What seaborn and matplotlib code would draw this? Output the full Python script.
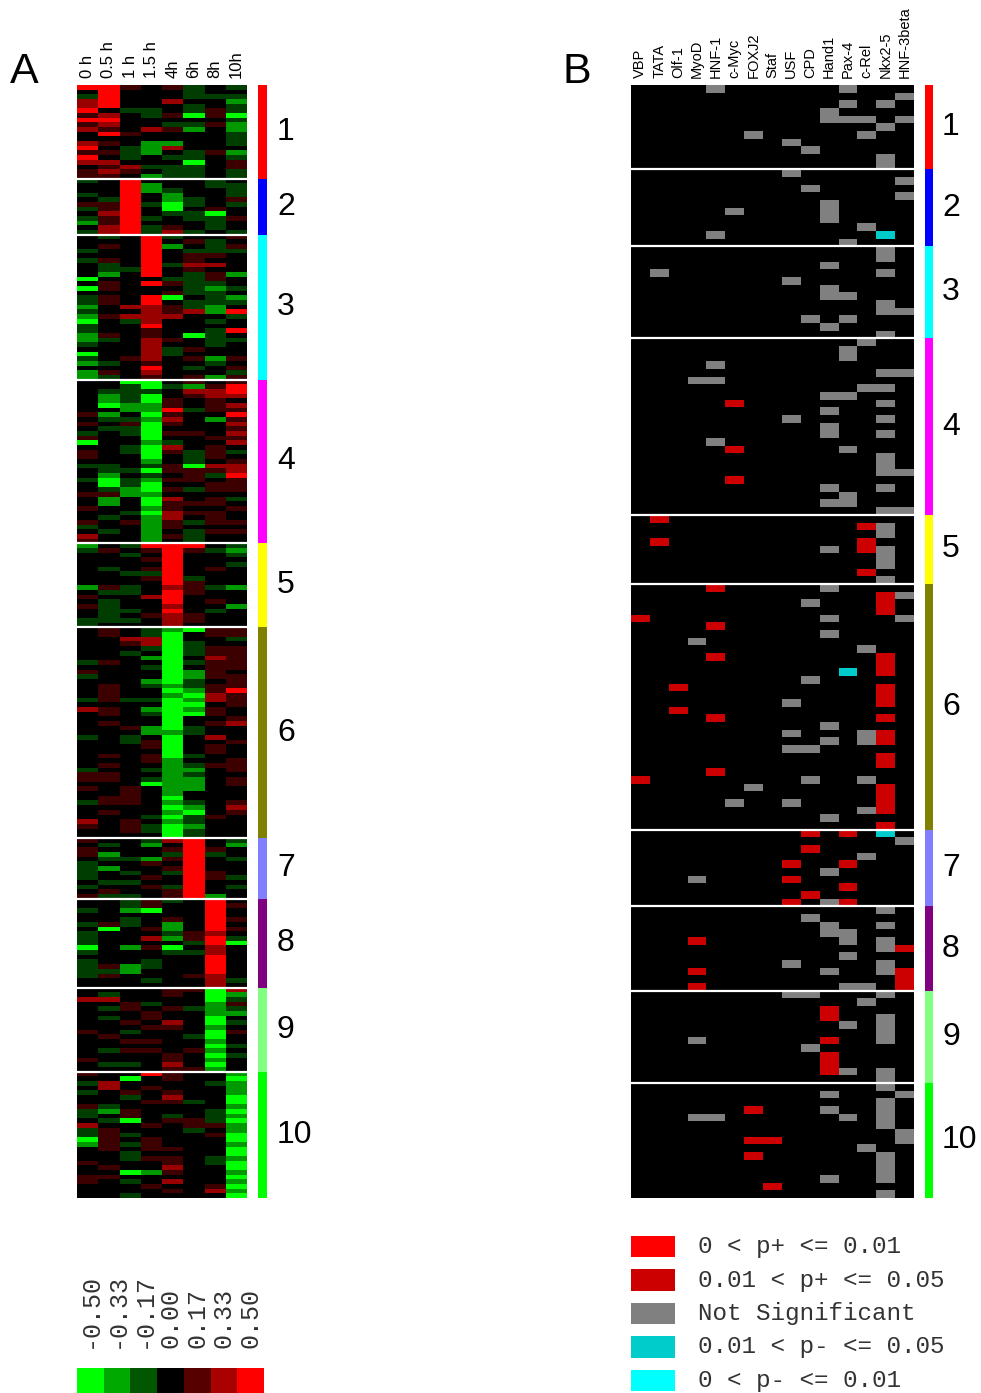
import numpy as np
import matplotlib
matplotlib.use("Agg")
import matplotlib.pyplot as plt
from matplotlib.colors import LinearSegmentedColormap, ListedColormap
from matplotlib.transforms import blended_transform_factory
import seaborn as sns

# ---------------- data ----------------
time_labels = ["0 h", "0.5 h", "1 h", "1.5 h", "4h", "6h", "8h", "10h"]
factor_labels = ["VBP", "TATA", "Olf-1", "MyoD", "HNF-1", "c-Myc", "FOXJ2", "Staf",
                 "USF", "CPD", "Hand1", "Pax-4", "c-Rel", "Nkx2-5", "HNF-3beta"]
cluster_names = ["1", "2", "3", "4", "5", "6", "7", "8", "9", "10"]
cluster_colors = ["#FF0000", "#0000FF", "#00FFFF", "#FF00FF", "#FFFF00",
                  "#808000", "#8080FF", "#800080", "#80FF80", "#00FF00"]
scale_ticks = [-0.50, -0.33, -0.17, 0.00, 0.17, 0.33, 0.50]
legend_labels = ["0 < p+ <= 0.01", "0.01 < p+ <= 0.05", "Not Significant",
                 "0.01 < p- <= 0.05", "0 < p- <= 0.01"]
legend_colors = ["#FF0000", "#CC0000", "#808080", "#00CCCC", "#00FFFF"]

# expression level read per cell, coded by digit: 0 bright green ... 3 black ... 6 bright red
level_values = [-0.50, -0.30, -0.12, 0.00, 0.12, 0.30, 0.50]

expr_c1 = ["66434232", "36333233", "26333222", "56335331", "56333232",
           "63223242", "45324040", "66333332", "45332241", "54354131",
           "36433332", "33333332", "54311332", "63215333", "44213241",
           "63232232", "55333034", "34522234", "45432232", "44312232"]
expr_c2 = ["23633323", "33613322", "33612332", "23631332", "32631234",
           "44620232", "24630343", "35632203", "24623224", "14633323",
           "35624323", "25625232"]
expr_c3 = ["32362334", "33363423", "34361324", "23363222", "33363443",
           "24363433", "32362553", "32263433", "31363241", "03332243",
           "34364223", "04333212", "33334223", "24360321", "24363222",
           "13554213", "23354516", "14555332", "03253323", "23363333",
           "23343326", "14343023", "12354322", "23353323", "33352433",
           "03352333", "23453414", "12343323", "33363234", "14353332",
           "12343414"]
expr_c4 = ["33003434", "33202146", "32223556", "31203455", "31204343",
           "30114345", "33116244", "41304336", "32215314", "43404335",
           "32203334", "23204435", "43303344", "03312335", "33205343",
           "43204242", "43303243", "33313234", "22324055", "32204445",
           "31323426", "20214434", "30203344", "32104244", "44113333",
           "31305342", "31304443", "43314334", "33205443", "32315343",
           "43414244", "23314333", "32313244", "53314233", "43313233"]
expr_c5 = ["13266632", "24346421", "33236332", "33346333", "33336332",
           "32346343", "33226333", "33346233", "33336433", "14235421",
           "32236433", "43356333", "32336343", "42335331", "32236323",
           "32345433", "22235433", "23335333"]
expr_c6 = ["34321044", "34320344", "33550332", "33450233", "33320244",
           "33230244", "33310354", "24330244", "33320344", "43330143",
           "23330144", "33310234", "34321244", "34330146", "34331054",
           "24220154", "33330034", "54310143", "34320043", "33330334",
           "34330345", "33410233", "33311233", "23230353", "33240334",
           "33340343", "33330343", "34340233", "33341334", "34331244",
           "23321134", "44331233", "44321134", "33301134", "43431133",
           "33431333", "34430333", "24431234", "33330135", "34331034",
           "33320243", "53431233", "43420133", "33420233", "33330233"]
expr_c7 = ["43325632", "32313631", "43334643", "41332623", "32214632",
           "23343633", "21334633", "23232643", "23343642", "32233633",
           "23342632", "34334633", "42234613"]
expr_c8 = ["33242363", "33243364", "23103363", "33333363", "33234364",
           "24231363", "30341364", "23332453", "23351462", "23333260",
           "03140353", "23332253", "33333363", "23323363", "24123363",
           "22133363", "24333453", "33323352", "33333353"]
expr_c9 = ["33334405", "32334301", "55333302", "33423314", "32434212",
           "33343311", "32343303", "33435302", "33344313", "43233304",
           "34333203", "33443313", "33333302", "32443413", "33334302",
           "43334313", "32235303", "33334413"]
expr_c10 = ["43364331", "33034330", "25333321", "35343331", "23434331",
            "33235330", "33344230", "42333331", "21433320", "23432321",
            "32034420", "53343441", "24333231", "24233340", "04343330",
            "14243331", "34344330", "33233330", "33244321", "43334320",
            "34335330", "33014331", "44333330", "43235331", "33343340",
            "33334351", "33233330"]

# promoter motif significance per gene row (columns = factor_labels)
# '.' none (black), 'g' not significant, 'r' 0.01<p+<=0.05, 'R' 0<p+<=0.01, 'c' 0.01<p-<=0.05, 'C' 0<p-<=0.01
motif_c1 = ["....g......g...", "..............g", "...........g.g.", "..........g....",
            "..........ggg.g", ".............g.", "......g.....g..", "........g......",
            ".........g.....", ".............g.", ".............g."]
motif_c2 = ["........g......", "..............g", ".........g.....", "..............g",
            "..........g....", ".....g....g....", "..........g....", "............g..",
            "....g........c.", "...........g..."]
motif_c3 = [".............g.", ".............g.", "..........g....", ".g...........g.",
            "........g......", "..........g....", "..........gg...", ".............g.",
            ".............gg", ".........g.g...", "..........g....", ".............g."]
motif_c4 = ["............g..", "...........g...", "...........g...", "....g..........",
            ".............gg", "...gg..........", "............gg.", "..........gg...",
            ".....r.......g.", "..........g....", "........g....g.", "..........g....",
            "..........g..g.", "....g..........", ".....r.....g...", ".............g.",
            ".............g.", ".............gg", ".....r.........", "..........g..g.",
            "...........g...", "..........gg...", ".............gg"]
motif_c5 = [".r.............", "............rg.", ".............g.", ".r..........r..",
            "..........g.rg.", ".............g.", ".............g.", "............r..",
            ".............g."]
motif_c6 = ["....r.....g....", ".............rg", ".........g...r.", ".............r.",
            "r.........g...g", "....r..........", "..........g....", "...g...........",
            "............g..", "....r........r.", ".............r.", "...........c.r.",
            ".........g.....", "..r..........r.", ".............r.", "........g....r.",
            "..r............", "....r........r.", "..........g....", "........g...gr.",
            "..........g.gr.", "........gg.....", ".............r.", ".............r.",
            "....r..........", "r........g..g..", "......g......r.", ".............r.",
            ".....g..g....r.", "............gr.", "..........g....", ".............r."]
motif_c7 = [".........r.r.c.", "..............g", ".........r.....", "............g..",
            "........r..r...", "..........g....", "...g....r......", "...........r...",
            ".........r.....", "........r.gr..."]
motif_c8 = [".............g.", ".........g.....", "..........g..g.", "..........gg...",
            "...r.......g.g.", ".............gr", "...........g...", "........g....g.",
            "...r......g..gr", "..............r", "...r.......gg.r"]
motif_c9 = ["........gg...g.", "............g..", "..........r....", "..........r..g.",
            "...........g.g.", ".............g.", "...g......r..g.", ".........g.....",
            "..........r....", "..........r....", "..........rg.g.", ".............g."]
motif_c10 = [".............g.", "..........g...g", ".............g.", "......r...g..g.",
             "...gg......g.g.", ".............g.", "..............g", "......rr......g",
             "............g..", "......r......g.", ".............g.", ".............g.",
             "..........g..g.", ".......r.......", ".............g."]

expr_clusters = [expr_c1, expr_c2, expr_c3, expr_c4, expr_c5,
                 expr_c6, expr_c7, expr_c8, expr_c9, expr_c10]
motif_clusters = [motif_c1, motif_c2, motif_c3, motif_c4, motif_c5,
                  motif_c6, motif_c7, motif_c8, motif_c9, motif_c10]

# ---------------- build matrices ----------------
expr_rows, expr_cid = [], []
for k, cl in enumerate(expr_clusters):
    for row in cl:
        expr_rows.append([level_values[int(ch)] for ch in row])
        expr_cid.append(k)
expr = np.array(expr_rows)
expr_cid = np.array(expr_cid)

code = {".": 0, "g": 1, "r": 2, "R": 3, "c": 4, "C": 5}
motif_rows, motif_cid = [], []
for k, cl in enumerate(motif_clusters):
    for row in cl:
        motif_rows.append([code[ch] for ch in row])
        motif_cid.append(k)
motif = np.array(motif_rows)
motif_cid = np.array(motif_cid)

# ---------------- figure ----------------
W, H = 981, 1393
fig = plt.figure(figsize=(W / 100, H / 100), dpi=100)
fig.patch.set_facecolor("white")
plt.rcParams["font.family"] = ["Liberation Sans", "DejaVu Sans"]


def ax_px(l, t, r, b):
    return fig.add_axes([l / W, 1 - b / H, (r - l) / W, (b - t) / H])


cmap_expr = LinearSegmentedColormap.from_list("gkr", ["#00FF00", "#000000", "#FF0000"])
cmap_motif = ListedColormap(["#000000", "#808080", "#CC0000", "#FF0000", "#00CCCC", "#00FFFF"])
cmap_clu = ListedColormap(cluster_colors)


def panel(l, r, data, cid, cmap, vmin, vmax, labels, lab_size, bar_l, bar_r, num_x):
    ax = ax_px(l, 85, r, 1198)
    sns.heatmap(data, cmap=cmap, vmin=vmin, vmax=vmax, cbar=False, ax=ax,
                xticklabels=labels, yticklabels=False)
    ax.xaxis.tick_top()
    ax.tick_params(axis="x", length=0, pad=5, labelsize=lab_size, labelrotation=90)
    bounds = np.flatnonzero(np.diff(cid)) + 1
    for b in bounds:
        ax.axhline(b, color="white", lw=1.6)
    axb = ax_px(bar_l, 85, bar_r, 1198)
    sns.heatmap(cid[:, None], cmap=cmap_clu, vmin=-0.5, vmax=9.5, cbar=False, ax=axb,
                xticklabels=False, yticklabels=False)
    trans = blended_transform_factory(fig.transFigure, axb.transData)
    edges = np.concatenate([[0], bounds, [len(cid)]])
    for k, name in enumerate(cluster_names):
        fig.text(num_x / W, (edges[k] + edges[k + 1]) / 2, name, transform=trans,
                 ha="left", va="center", fontsize=23, color="black")
    return ax


panel(77, 247, expr, expr_cid, cmap_expr, -0.5, 0.5, time_labels, 12, 258, 267, 277)
panel(631, 914, motif, motif_cid, cmap_motif, -0.5, 5.5, factor_labels, 10.5, 925, 933, 942)

fig.text(10 / W, 1 - 83 / H, "A", fontsize=31, ha="left", va="baseline")
fig.text(562 / W, 1 - 83 / H, "B", fontsize=31, ha="left", va="baseline")

# colour scale
axc = ax_px(77, 1368, 264, 1393)
sns.heatmap(np.array([scale_ticks]), cmap=cmap_expr, vmin=-0.5, vmax=0.5, cbar=False, ax=axc,
            xticklabels=False, yticklabels=False)
for i, v in enumerate(scale_ticks):
    axc.text(i + 0.5, -0.8, f"{v:.2f}", rotation=90, ha="center", va="bottom",
             family="Liberation Mono", fontsize=18, color="#333333")

# significance legend
axl = ax_px(631, 1229.75, 981, 1397.25)
axl.barh(np.arange(len(legend_labels)), [44] * len(legend_labels), left=0, height=0.63,
         color=legend_colors)
for i, t in enumerate(legend_labels):
    axl.text(67, i, t, ha="left", va="center", family="Liberation Mono", fontsize=17.5,
             color="#333333")
axl.set_xlim(0, 350)
axl.set_ylim(len(legend_labels) - 0.5, -0.5)
axl.axis("off")

fig.savefig("out.png", dpi=100, facecolor="white")
